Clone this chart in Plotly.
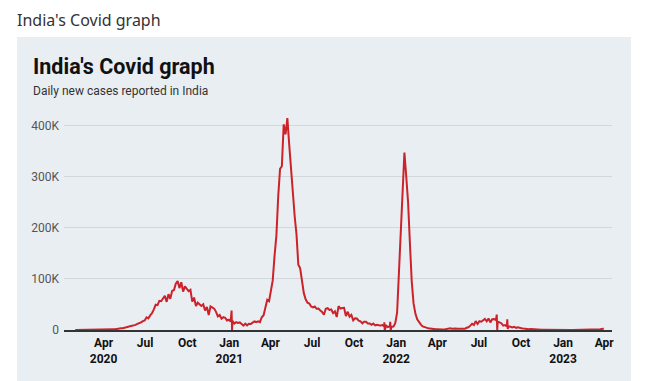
import pandas as pd
import plotly.graph_objects as go

# ---------------- data (daily new cases, sampled every 4 days) ----------------
start_date = "2020-01-30"
step = "4D"

cases_2020 = [
    1, 1, 0, 0, 0, 0, 0, 0, 2,
    5, 15, 20, 30, 90, 100, 230, 600,
    570, 900, 1100, 1300, 1400, 1500, 2400, 3900,
    3300, 3500, 4900, 5600, 6500, 7500, 8200, 9900,
    9900, 11900, 12900, 14800, 17300, 18600, 24900, 22800,
    28600, 32700, 40400, 49300, 48500, 57100, 56300, 62000,
    66900, 55000, 69900, 60900, 76500, 78300, 90600, 95700,
    81900, 93300, 75100, 85300, 80500, 75800, 78500, 55300,
    63400, 46800, 53400, 49900, 46900, 50200, 38000, 44900,
    29200, 46200, 44400, 41800, 35500, 26600, 29400, 22100,
    25100, 23900, 18700, 20000,
]
cases_2021 = [
    16500, 18100, 12600, 15200, 13800, 14800, 11700, 8600,
    12400, 9100, 12100, 11600, 14300, 16700, 15500, 16800,
    15400, 24900, 28900, 43800, 59100, 56200, 81500, 96900,
    145400, 184400, 261500, 314800, 320000, 402000, 382300, 414000,
    362700, 311200, 276100, 222300, 186400, 127500, 120500, 90000,
    72000, 60000, 53300, 51700, 45900, 44100, 45900, 41500,
    41800, 38200, 35300, 29700, 41600, 42600, 39100, 40100,
    32900, 36500, 25400, 46800, 41900, 42800, 43300, 27300,
    35700, 26100, 29600, 18900, 22800, 22400, 18100, 16800,
    13100, 16300, 16200, 12800, 12900, 10100, 12500, 8900,
    10300, 9300, 8800, 9800, 6800, 8500, 5800, 7100,
    6300, 6900, 13200,
]
cases_2022 = [
    33700, 117000, 190000, 268000, 347000, 300000, 250000, 170000,
    95000, 52000, 32000, 21000, 14500, 10500, 7000, 6400,
    4600, 3600, 2900, 1700, 1900, 1300, 1300, 800,
    1200, 1100, 1200, 2400, 2500, 3400, 2600, 3400,
    2900, 2500, 2300, 1700, 2700, 2300, 4300, 5200,
    8600, 12200, 9900, 17300, 11800, 17100, 16200, 18300,
    21500, 16900, 22500, 14800, 21000, 21500, 19400, 16300,
    14900, 13300, 8600, 9500, 7200, 7200, 6400, 5200,
    6300, 4000, 5400, 3600, 3400, 2800, 2000, 2400,
    1500, 2100, 1600, 1600, 1200, 900, 800, 500,
    500, 400, 300, 300, 200, 200, 150, 200,
    180, 200, 240,
]
cases_2023 = [
    130, 200, 120, 180, 130, 120, 110, 90,
    110, 100, 110, 120, 170, 100, 230, 330,
    320, 520, 700, 1100, 1300, 1800, 3000,
]

# reporting glitches visible as thin vertical spikes
spike_dates = ["2021-01-06", "2021-01-07", "2021-12-06", "2021-12-07",
               "2021-12-19", "2021-12-20", "2022-08-09", "2022-08-10",
               "2022-09-01", "2022-09-02"]
spike_values = [38000, 0, 15000, 0, 16000, 0, 30000, 0, 21000, 2000]

x_tick_dates = ["2020-04-01", "2020-07-01", "2020-10-01", "2021-01-01",
                "2021-04-01", "2021-07-01", "2021-10-01", "2022-01-01",
                "2022-04-01", "2022-07-01", "2022-10-01", "2023-01-01",
                "2023-04-01"]
x_tick_labels = ["Apr<br>2020", "Jul", "Oct", "Jan<br>2021", "Apr", "Jul", "Oct",
                 "Jan<br>2022", "Apr", "Jul", "Oct", "Jan<br>2023", "Apr"]
y_tick_values = [0, 100000, 200000, 300000, 400000]
y_tick_labels = ["0", "100K", "200K", "300K", "400K"]

# ---------------- build series ----------------
values = cases_2020 + cases_2021 + cases_2022 + cases_2023
dates = pd.date_range(start_date, periods=len(values), freq=step)
series = pd.concat([
    pd.Series(values, index=dates),
    pd.Series(spike_values, index=pd.to_datetime(spike_dates)),
]).sort_index()

FONT = "Roboto"
PANEL = "#e9eef3"

fig = go.Figure()
fig.add_trace(go.Scatter(
    x=series.index, y=series.values, mode="lines",
    line=dict(color="#cc2229", width=2),
    hoverinfo="skip", showlegend=False,
))

W, H = 648, 381
L, R, T, B = 56, 44, 102, 59
pw, ph = W - L - R, H - T - B


def px_x(p):
    return (p - L) / pw


def px_y(p):
    return (H - B - p) / ph


fig.add_shape(type="rect", xref="paper", yref="paper",
              x0=px_x(9), x1=px_x(623), y0=px_y(390), y1=px_y(29),
              fillcolor=PANEL, line=dict(width=0), layer="below")

fig.add_annotation(text="India's Covid graph", xref="paper", yref="paper",
                   x=px_x(8), y=px_y(0), xanchor="left", yanchor="top",
                   borderpad=0, showarrow=False,
                   font=dict(family="Noto Sans", size=16, color="#333"))
fig.add_annotation(text="India's Covid graph", xref="paper", yref="paper",
                   x=px_x(23), y=px_y(58), xanchor="left", yanchor="middle",
                   showarrow=False,
                   font=dict(family=FONT, size=21.5, color="#111", weight="bold"))
fig.add_annotation(text="Daily new cases reported in India", xref="paper", yref="paper",
                   x=px_x(23), y=px_y(83), xanchor="left", yanchor="middle",
                   showarrow=False, font=dict(family=FONT, size=12, color="#333"))

fig.update_layout(
    width=W, height=H,
    margin=dict(l=L, r=R, t=T, b=B),
    paper_bgcolor="white",
    plot_bgcolor="rgba(0,0,0,0)",
    xaxis=dict(
        range=["2020-01-05 12:00", "2023-04-18"],
        tickvals=x_tick_dates, ticktext=x_tick_labels,
        tickfont=dict(family=FONT, size=12, color="#111", weight="bold"),
        showgrid=False, zeroline=False,
        showline=True, linecolor="#333", linewidth=1.5,
        ticks="", ticklabelstandoff=1,
    ),
    yaxis=dict(
        range=[0, 430000],
        tickvals=y_tick_values, ticktext=y_tick_labels,
        tickfont=dict(family=FONT, size=12, color="#555"),
        showgrid=True, gridcolor="#d3d6db", gridwidth=1,
        zeroline=False, showline=False, ticks="", ticklabelstandoff=4,
    ),
)

fig.write_html("out.html")
